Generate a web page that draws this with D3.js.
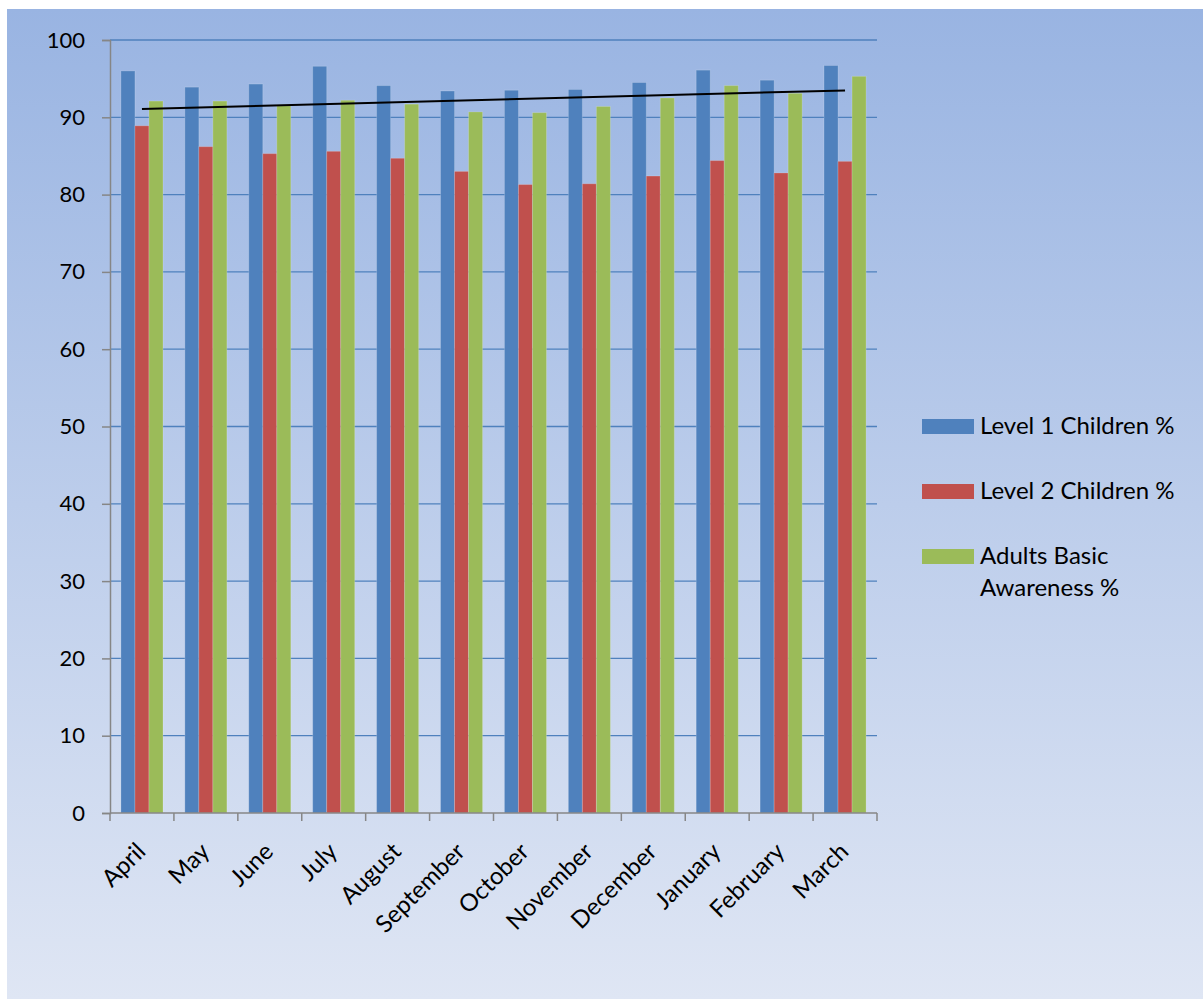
<!DOCTYPE html>
<html>
<head>
<meta charset="utf-8">
<script src="https://cdn.jsdelivr.net/npm/d3@7"></script>
<style>
  html, body { margin: 0; padding: 0; background: #ffffff; }
  svg { display: block; }
  text { font-family: Lato, "Open Sans", sans-serif; fill: #000; }
</style>
</head>
<body>
<svg id="chart" width="1203" height="999"></svg>
<script>
// Monthly awareness percentages
const months = ["April", "May", "June", "July", "August", "September",
                "October", "November", "December", "January", "February", "March"];
const level1Children = [96.0, 93.9, 94.3, 96.6, 94.1, 93.4, 93.5, 93.6, 94.5, 96.1, 94.8, 96.7];
const level2Children = [88.9, 86.2, 85.3, 85.6, 84.7, 83.0, 81.3, 81.4, 82.4, 84.4, 82.8, 84.3];
const adultsBasic    = [92.1, 92.1, 91.6, 92.2, 91.7, 90.7, 90.6, 91.4, 92.5, 94.1, 93.1, 95.3];
const seriesNames = ["Level 1 Children %", "Level 2 Children %", "Adults Basic Awareness %"];
const seriesColors = ["#4f81bd", "#c0504d", "#9bbb59"];
const yTicks = [0, 10, 20, 30, 40, 50, 60, 70, 80, 90, 100];

const seriesValues = [level1Children, level2Children, adultsBasic];

const svg = d3.select("#chart");

// Background panel with vertical gradient
const defs = svg.append("defs");
const grad = defs.append("linearGradient")
  .attr("id", "bg").attr("x1", 0).attr("y1", 0).attr("x2", 0).attr("y2", 1);
grad.append("stop").attr("offset", "0%").attr("stop-color", "#99b4e2");
grad.append("stop").attr("offset", "100%").attr("stop-color", "#dfe6f4");
svg.append("rect").attr("x", 7).attr("y", 9).attr("width", 1196).attr("height", 990)
  .attr("fill", "url(#bg)");

const plot = { left: 110, right: 877, top: 40, bottom: 813 };

const x = d3.scaleBand().domain(months).range([plot.left, plot.right]).paddingInner(0).paddingOuter(0);
const y = d3.scaleLinear().domain([0, 100]).range([plot.bottom, plot.top]);
const xs = d3.scaleBand().domain(d3.range(seriesNames.length))
  .range([0, x.bandwidth()]).paddingOuter(0.78).paddingInner(0);

// Gridlines
svg.append("g").selectAll("line").data(yTicks.filter(t => t > 0)).join("line")
  .attr("x1", plot.left).attr("x2", plot.right)
  .attr("y1", d => y(d)).attr("y2", d => y(d))
  .attr("stroke", "#4f81bd").attr("stroke-width", 1.3);

// Bars
const groups = svg.append("g").selectAll("g").data(months).join("g")
  .attr("transform", d => `translate(${x(d)},0)`);
groups.selectAll("rect")
  .data((m, i) => seriesValues.map((vals, s) => ({ s, v: vals[i] })))
  .join("rect")
  .attr("x", d => xs(d.s))
  .attr("width", xs.bandwidth())
  .attr("y", d => y(d.v))
  .attr("height", d => y(0) - y(d.v))
  .attr("fill", d => seriesColors[d.s])
  .attr("stroke", "rgba(255,255,255,0.18)")
  .attr("stroke-width", 1);

// Y axis
const yAxis = d3.axisLeft(y).tickValues(yTicks).tickSize(8).tickPadding(17);
const gy = svg.append("g").attr("transform", `translate(${plot.left},0)`).call(yAxis);
gy.select(".domain").attr("stroke", "#868686").attr("stroke-width", 1.5);
gy.selectAll(".tick line").attr("stroke", "#868686").attr("stroke-width", 1.5);
gy.selectAll(".tick text").style("font-size", "22px").style("font-family", "Lato, sans-serif").attr("fill", "#000");

// X axis with ticks at band boundaries
const gx = svg.append("g").attr("transform", `translate(0,${plot.bottom})`);
gx.append("line").attr("x1", plot.left).attr("x2", plot.right).attr("y1", 0).attr("y2", 0)
  .attr("stroke", "#868686").attr("stroke-width", 1.5);
const boundaries = months.map(m => x(m)).concat([plot.right]);
gx.selectAll("line.tk").data(boundaries).join("line").attr("class", "tk")
  .attr("x1", d => d).attr("x2", d => d).attr("y1", 0).attr("y2", 8)
  .attr("stroke", "#868686").attr("stroke-width", 1.5);
gx.selectAll("text").data(months).join("text")
  .attr("transform", d => `translate(${x(d) + x.bandwidth() / 2 + 5},${40}) rotate(-45)`)
  .attr("text-anchor", "end")
  .style("font-size", "24px")
  .text(d => d);

// Linear trend of the adults series
const n = adultsBasic.length;
const idx = d3.range(n);
const mx = d3.mean(idx), my = d3.mean(adultsBasic);
const slope = d3.sum(idx, i => (i - mx) * (adultsBasic[i] - my)) / d3.sum(idx, i => (i - mx) ** 2);
const intercept = my - slope * mx;
const trend = [0, n - 1].map(i => ({ i, v: intercept + slope * i }));
svg.append("path")
  .datum(trend)
  .attr("d", d3.line().x(d => x(months[d.i]) + x.bandwidth() / 2).y(d => y(d.v)))
  .attr("fill", "none").attr("stroke", "#000").attr("stroke-width", 2);

// Legend
const legend = svg.append("g").attr("transform", "translate(922,0)");
const legendY = [419, 484, 549];
const legendLines = [["Level 1 Children %"], ["Level 2 Children %"], ["Adults Basic", "Awareness %"]];
seriesNames.forEach((name, i) => {
  const g = legend.append("g").attr("transform", `translate(0,${legendY[i]})`);
  g.append("rect").attr("width", 52).attr("height", 15).attr("fill", seriesColors[i]);
  const t = g.append("text").attr("x", 58).attr("y", 15).style("font-size", "24px");
  legendLines[i].forEach((ln, k) => {
    t.append("tspan").attr("x", 58).attr("dy", k === 0 ? 0 : 32).text(ln);
  });
});
</script>
</body>
</html>
